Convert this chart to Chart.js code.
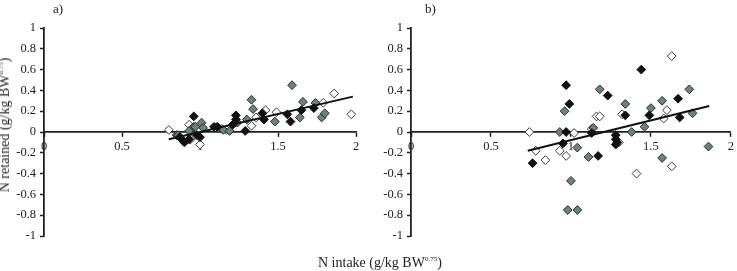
<!DOCTYPE html>
<html>
<head>
<meta charset="utf-8">
<script src="https://cdn.jsdelivr.net/npm/chart.js@4"></script>
<style>
  html, body { margin: 0; padding: 0; background: #fff; }
  body { width: 737px; height: 271px; position: relative; overflow: hidden; font-family: "Liberation Serif", "DejaVu Serif", serif; color: #222; }
  canvas { position: absolute; top: 0; }
  #ca { left: 0; }
  #cb { left: 370px; }
  .lbl { position: absolute; font-size: 13px; line-height: 13px; white-space: nowrap; }
  .ttl { position: absolute; font-size: 14px; line-height: 14px; white-space: nowrap; }
  sup { font-size: 7px; vertical-align: 6px; line-height: 0; }
</style>
</head>
<body>
<canvas id="ca" width="370" height="271"></canvas>
<canvas id="cb" width="367" height="271"></canvas>
<div class="lbl" style="left:53px; top:2px;">a)</div>
<div class="lbl" style="left:425px; top:2px;">b)</div>
<div class="ttl" style="left:318px; top:256px;">N intake (g/kg BW<sup>0.75</sup>)</div>
<div class="ttl" style="left:5px; top:125px; transform: translate(-50%, -50%) rotate(-90deg);">N retained (g/kg BW<sup>0.75</sup>)</div>
<script>
// ---- Data ----
const xTicks = [0, 0.5, 1, 1.5, 2];
const yTicks = [-1, -0.8, -0.6, -0.4, -0.2, 0, 0.2, 0.4, 0.6, 0.8, 1];

// Panel a)
const aBlack = [[0.96,0.15],[0.87,-0.05],[0.89,-0.08],[0.90,-0.10],[0.93,-0.07],[0.98,-0.03],[1.00,-0.05],
  [1.09,0.05],[1.11,0.05],[1.21,0.07],[1.23,0.16],[1.23,0.12],[1.29,0.01],[1.40,0.18],[1.41,0.12],
  [1.56,0.17],[1.58,0.10],[1.65,0.21],[1.73,0.23]];
const aGray = [[0.85,-0.03],[0.86,-0.03],[0.93,0.01],[0.96,0.05],[0.97,0.05],[1.01,0.09],[1.02,0.04],
  [1.12,0.04],[1.15,0.02],[1.19,0.01],[1.24,0.09],[1.30,0.12],[1.33,0.31],[1.34,0.22],[1.48,0.10],
  [1.59,0.45],[1.64,0.14],[1.66,0.29],[1.74,0.28],[1.78,0.14],[1.80,0.18]];
const aWhite = [[0.80,0.02],[0.93,0.07],[0.94,-0.07],[1.00,-0.12],[0.99,0.01],[1.14,0.03],[1.17,0.02],
  [1.33,0.06],[1.36,0.14],[1.42,0.21],[1.49,0.19],[1.79,0.28],[1.86,0.37],[1.97,0.17]];
const aLine = [[0.80,-0.07],[1.98,0.34]];

// Panel b)
const bBlack = [[0.76,-0.30],[0.95,-0.11],[0.97,0.45],[0.97,0.00],[0.99,0.27],[1.13,-0.01],[1.17,-0.23],
  [1.23,0.35],[1.28,-0.03],[1.28,-0.07],[1.29,-0.10],[1.28,-0.12],[1.34,0.16],[1.44,0.60],[1.49,0.16],
  [1.67,0.32],[1.68,0.14]];
const bGray = [[0.93,0.00],[0.96,0.20],[0.98,-0.75],[1.00,-0.47],[1.04,-0.75],[1.04,-0.15],[1.11,-0.24],
  [1.14,0.04],[1.18,0.41],[1.34,0.27],[1.38,0.00],[1.46,0.05],[1.50,0.23],[1.57,0.30],[1.57,-0.25],
  [1.74,0.41],[1.76,0.18],[1.86,-0.14]];
const bWhite = [[0.74,0.00],[0.78,-0.18],[0.84,-0.27],[0.93,-0.18],[0.97,-0.23],[1.02,-0.01],[1.13,0.03],
  [1.16,0.15],[1.18,0.15],[1.30,-0.10],[1.32,0.17],[1.41,-0.40],[1.58,0.13],[1.60,0.21],[1.63,0.73],[1.63,-0.33]];
const bLine = [[0.73,-0.18],[1.865,0.25]];

// ---- Styles ----
const INK = '#222';
const toXY = arr => arr.map(p => ({x: p[0], y: p[1]}));
function pts(data, fill, stroke) {
  return { type: 'scatter', data: toXY(data), pointStyle: 'rectRot', pointRadius: 4.4,
    pointBackgroundColor: fill, pointBorderColor: stroke, pointBorderWidth: 1, showLine: false };
}
function lineDs(data) {
  return { type: 'line', data: toXY(data), borderColor: '#111', borderWidth: 2, pointRadius: 0, fill: false, tension: 0 };
}
const fmt = v => { const r = Math.round(v * 10) / 10; return String(r === 0 ? 0 : r); };

function makeChart(id, black, gray, white, line, yAxisWidth, padRight) {
  new Chart(document.getElementById(id), {
    data: { datasets: [lineDs(line), pts(black, '#111', '#111'), pts(gray, '#6d817d', '#2a2a2a'), pts(white, '#ffffff', '#3a3a3a')] },
    options: {
      responsive: false, animation: false,
      layout: { padding: { left: 0, right: padRight, top: 28, bottom: 35 } },
      plugins: { legend: { display: false }, tooltip: { enabled: false } },
      scales: {
        x: {
          type: 'linear', position: { y: 0 }, min: 0, max: 2,
          afterBuildTicks: s => { s.ticks = xTicks.map(v => ({ value: v })); },
          ticks: { callback: v => fmt(v), color: INK, padding: 3, maxRotation: 0,
            font: { family: '"Liberation Serif", serif', size: 12.5 } },
          grid: { drawOnChartArea: false, drawTicks: true, tickLength: 4, color: INK, tickWidth: 1.5 },
          border: { display: true, color: INK, width: 1.8 }
        },
        y: {
          type: 'linear', position: 'left', min: -1, max: 1,
          afterBuildTicks: s => { s.ticks = yTicks.map(v => ({ value: v })); },
          afterFit: s => { s.width = yAxisWidth; },
          ticks: { callback: v => fmt(v), color: INK, padding: 4,
            font: { family: '"Liberation Serif", serif', size: 12.5 } },
          grid: { drawOnChartArea: false, drawTicks: true, tickLength: 4, color: INK, tickWidth: 1.5 },
          border: { display: true, color: INK, width: 1.8 }
        }
      }
    }
  });
}
makeChart('ca', aBlack, aGray, aWhite, aLine, 44, 14);
makeChart('cb', bBlack, bGray, bWhite, bLine, 41, 5);
</script>
</body>
</html>
